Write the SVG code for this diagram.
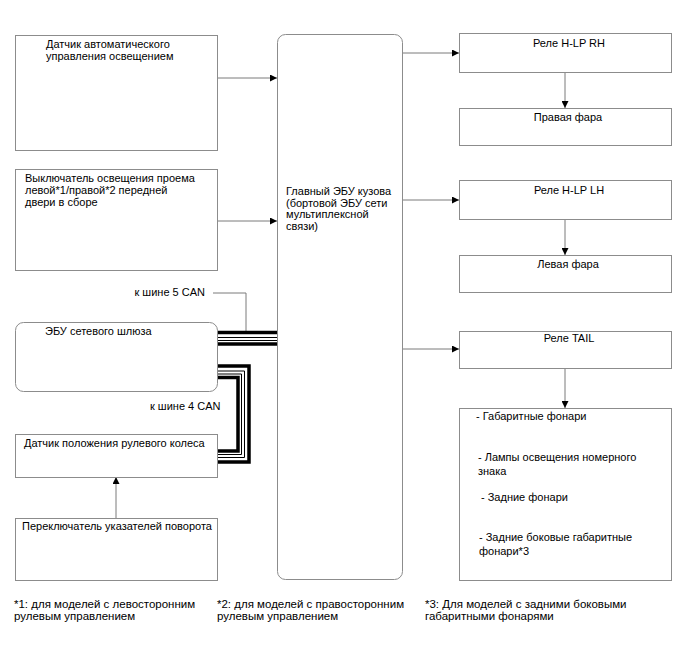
<svg xmlns="http://www.w3.org/2000/svg" width="688" height="658" viewBox="0 0 688 658">
<defs>
<style>
text{font-family:"Liberation Sans",Arial,sans-serif;font-size:11px;fill:#000}
.fn{font-size:11.5px}
.box{fill:#fff;stroke:#8c8c8c;stroke-width:1}
.ln{fill:none;stroke:#7a7a7a;stroke-width:1}
.thick{fill:none;stroke:#000;stroke-width:3.5}
.thin{fill:none;stroke:#000;stroke-width:1}
.mid{text-anchor:middle}
.end{text-anchor:end}
</style>
<marker id="ah" viewBox="0 0 10 10" refX="10" refY="5" markerWidth="9" markerHeight="7" markerUnits="userSpaceOnUse" orient="auto">
<path d="M0,0 L10,5 L0,10 Z" fill="#000"/>
</marker>
</defs>
<rect width="688" height="658" fill="#fff"/>

<g id="connectors">
<path class="ln" d="M217,78 H277" marker-end="url(#ah)"/>
<path class="ln" d="M218,221 H277" marker-end="url(#ah)"/>
<path class="ln" d="M402,53 H459" marker-end="url(#ah)"/>
<path class="ln" d="M402,200 H459" marker-end="url(#ah)"/>
<path class="ln" d="M402,349 H459" marker-end="url(#ah)"/>
<path class="ln" d="M565,72 V108" marker-end="url(#ah)"/>
<path class="ln" d="M565,219 V255" marker-end="url(#ah)"/>
<path class="ln" d="M565,368 V408" marker-end="url(#ah)"/>
<path class="ln" d="M116,518 V477" marker-end="url(#ah)"/>
<path class="ln" d="M213,293 H246 V331"/>
<!-- CAN bus to main ECU -->
<path class="thick" d="M217,332.5 H277"/>
<path class="thin" d="M217,337.5 H277"/>
<path class="thin" d="M217,340.5 H277"/>
<path class="thick" d="M217,344 H277"/>
<!-- CAN bus to steering sensor -->
<path class="thick" d="M217,366 H249 V462 H217"/>
<path class="thin" d="M217,371 H244.5 V457.5 H217"/>
<path class="thin" d="M217,374 H241.5 V454.5 H217"/>
<path class="thick" d="M217,377.5 H238 V451 H217"/>
</g>

<g id="auto-light-sensor">
<rect class="box" x="15.5" y="35.5" width="202" height="115"/>
<text x="46" y="48">Датчик автоматического</text>
<text x="46" y="60">управления освещением</text>
</g>

<g id="door-switch">
<rect class="box" x="15.5" y="169.5" width="202" height="101"/>
<text x="25" y="182">Выключатель освещения проема</text>
<text x="25" y="194">левой*1/правой*2 передней</text>
<text x="25" y="206">двери в сборе</text>
</g>

<g id="gateway-ecu">
<rect class="box" x="15.5" y="322.5" width="202" height="69" rx="8"/>
<text x="45" y="335">ЭБУ сетевого шлюза</text>
</g>

<g id="steering-sensor">
<rect class="box" x="15.5" y="434.5" width="202" height="43"/>
<text x="24" y="447">Датчик положения рулевого колеса</text>
</g>

<g id="turn-switch">
<rect class="box" x="15.5" y="518.5" width="202" height="62"/>
<text x="22" y="530">Переключатель указателей поворота</text>
</g>

<g id="bus-labels">
<text class="end" x="205" y="296">к шине 5 CAN</text>
<text x="150" y="410">к шине 4 CAN</text>
</g>

<g id="main-ecu">
<rect class="box" x="277.5" y="34.5" width="125" height="545" rx="8"/>
<text x="286" y="195">Главный ЭБУ кузова</text>
<text x="286" y="206.7">(бортовой ЭБУ сети</text>
<text x="286" y="218.4">мультиплексной</text>
<text x="286" y="230.1">связи)</text>
</g>

<g id="relay-hlp-rh">
<rect class="box" x="459.5" y="33.5" width="212" height="39"/>
<text class="mid" x="569" y="47">Реле H-LP RH</text>
</g>
<g id="right-headlight">
<rect class="box" x="459.5" y="108.5" width="212" height="37"/>
<text class="mid" x="568" y="121">Правая фара</text>
</g>
<g id="relay-hlp-lh">
<rect class="box" x="459.5" y="180.5" width="212" height="39"/>
<text class="mid" x="569" y="194">Реле H-LP LH</text>
</g>
<g id="left-headlight">
<rect class="box" x="459.5" y="255.5" width="212" height="37"/>
<text class="mid" x="568" y="268">Левая фара</text>
</g>
<g id="relay-tail">
<rect class="box" x="459.5" y="331.5" width="212" height="37"/>
<text class="mid" x="569" y="342">Реле TAIL</text>
</g>
<g id="tail-lamps">
<rect class="box" x="459.5" y="408.5" width="212" height="172"/>
<text x="476" y="420">- Габаритные фонари</text>
<text x="478" y="461">- Лампы освещения номерного</text>
<text x="478" y="475">знака</text>
<text x="481" y="501">- Задние фонари</text>
<text x="479" y="541">- Задние боковые габаритные</text>
<text x="479" y="555">фонари*3</text>
</g>

<g id="footnotes">
<text class="fn" x="14" y="607.5">*1: для моделей с левосторонним</text>
<text class="fn" x="14" y="619.5">рулевым управлением</text>
<text class="fn" x="217" y="607.5">*2: для моделей с правосторонним</text>
<text class="fn" x="217" y="619.5">рулевым управлением</text>
<text class="fn" x="425" y="607.5">*3: Для моделей с задними боковыми</text>
<text class="fn" x="425" y="619.5">габаритными фонарями</text>
</g>
</svg>
